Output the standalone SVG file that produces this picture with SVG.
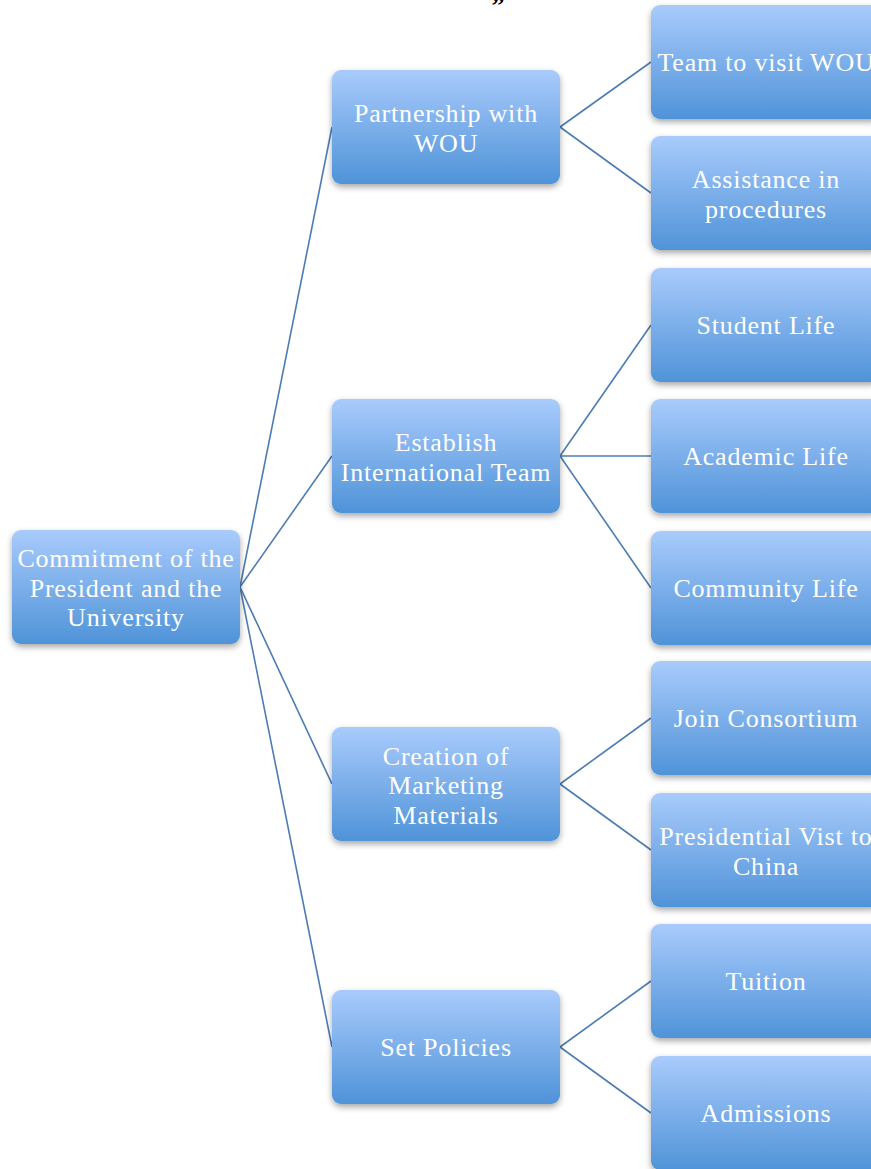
<svg xmlns="http://www.w3.org/2000/svg" width="871" height="1169" viewBox="0 0 871 1169">
  <style>
    .box { fill: url(#g); filter: url(#sh); }
    .t { font-family: "Liberation Serif", "Times New Roman", serif; font-size: 26px; letter-spacing: 0.8px; fill: #ffffff; text-anchor: middle; }
    .c { stroke: #4c7cb3; stroke-width: 1.6; fill: none; }
  </style>
  <defs>
    <linearGradient id="g" x1="0" y1="0" x2="0" y2="1">
      <stop offset="0" stop-color="#a9cbfc"/>
      <stop offset="1" stop-color="#4f93d8"/>
    </linearGradient>
    <filter id="sh" x="-10%" y="-10%" width="120%" height="130%">
      <feDropShadow dx="0" dy="3" stdDeviation="3" flood-color="#000" flood-opacity="0.35"/>
    </filter>
  </defs>
  <rect width="871" height="1169" fill="#ffffff"/>
  <text x="498" y="14" font-family="Liberation Serif, serif" font-weight="bold" font-size="26" text-anchor="middle" fill="#000">”</text>
  <g id="connectors">
    <line class="c" x1="240" y1="587" x2="332" y2="127"/>
    <line class="c" x1="240" y1="587" x2="332" y2="456"/>
    <line class="c" x1="240" y1="587" x2="332" y2="784"/>
    <line class="c" x1="240" y1="587" x2="332" y2="1047"/>
    <line class="c" x1="560" y1="127" x2="651" y2="62"/>
    <line class="c" x1="560" y1="127" x2="651" y2="193"/>
    <line class="c" x1="560" y1="456" x2="651" y2="325"/>
    <line class="c" x1="560" y1="456" x2="651" y2="456"/>
    <line class="c" x1="560" y1="456" x2="651" y2="588"/>
    <line class="c" x1="560" y1="784" x2="651" y2="718"/>
    <line class="c" x1="560" y1="784" x2="651" y2="850"/>
    <line class="c" x1="560" y1="1047" x2="651" y2="981"/>
    <line class="c" x1="560" y1="1047" x2="651" y2="1113"/>
  </g>
  <g id="root">
    <rect class="box" x="12" y="530" width="228" height="114" rx="9"/>
    <text class="t" x="126" y="567">Commitment of the</text>
    <text class="t" x="126" y="596.5">President and the</text>
    <text class="t" x="126" y="626">University</text>
  </g>
  <g id="partnership">
    <rect class="box" x="332" y="70" width="228" height="114" rx="9"/>
    <text class="t" x="446" y="122">Partnership with</text>
    <text class="t" x="446" y="151.5">WOU</text>
  </g>
  <g id="establish">
    <rect class="box" x="332" y="399" width="228" height="114" rx="9"/>
    <text class="t" x="446" y="451">Establish</text>
    <text class="t" x="446" y="480.5">International Team</text>
  </g>
  <g id="creation">
    <rect class="box" x="332" y="727" width="228" height="114" rx="9"/>
    <text class="t" x="446" y="764.5">Creation of</text>
    <text class="t" x="446" y="794">Marketing</text>
    <text class="t" x="446" y="823.5">Materials</text>
  </g>
  <g id="setpolicies">
    <rect class="box" x="332" y="990" width="228" height="114" rx="9"/>
    <text class="t" x="446" y="1056">Set Policies</text>
  </g>
  <g id="team">
    <rect class="box" x="651" y="5" width="230" height="114" rx="9"/>
    <text class="t" x="766" y="71">Team to visit WOU</text>
  </g>
  <g id="assistance">
    <rect class="box" x="651" y="136" width="230" height="114" rx="9"/>
    <text class="t" x="766" y="188">Assistance in</text>
    <text class="t" x="766" y="217.5">procedures</text>
  </g>
  <g id="student">
    <rect class="box" x="651" y="268" width="230" height="114" rx="9"/>
    <text class="t" x="766" y="334">Student Life</text>
  </g>
  <g id="academic">
    <rect class="box" x="651" y="399" width="230" height="114" rx="9"/>
    <text class="t" x="766" y="465">Academic Life</text>
  </g>
  <g id="community">
    <rect class="box" x="651" y="531" width="230" height="114" rx="9"/>
    <text class="t" x="766" y="597">Community Life</text>
  </g>
  <g id="consortium">
    <rect class="box" x="651" y="661" width="230" height="114" rx="9"/>
    <text class="t" x="766" y="727">Join Consortium</text>
  </g>
  <g id="presidential">
    <rect class="box" x="651" y="793" width="230" height="114" rx="9"/>
    <text class="t" x="766" y="845">Presidential Vist to</text>
    <text class="t" x="766" y="874.5">China</text>
  </g>
  <g id="tuition">
    <rect class="box" x="651" y="924" width="230" height="114" rx="9"/>
    <text class="t" x="766" y="990">Tuition</text>
  </g>
  <g id="admissions">
    <rect class="box" x="651" y="1056" width="230" height="114" rx="9"/>
    <text class="t" x="766" y="1122">Admissions</text>
  </g>
</svg>
